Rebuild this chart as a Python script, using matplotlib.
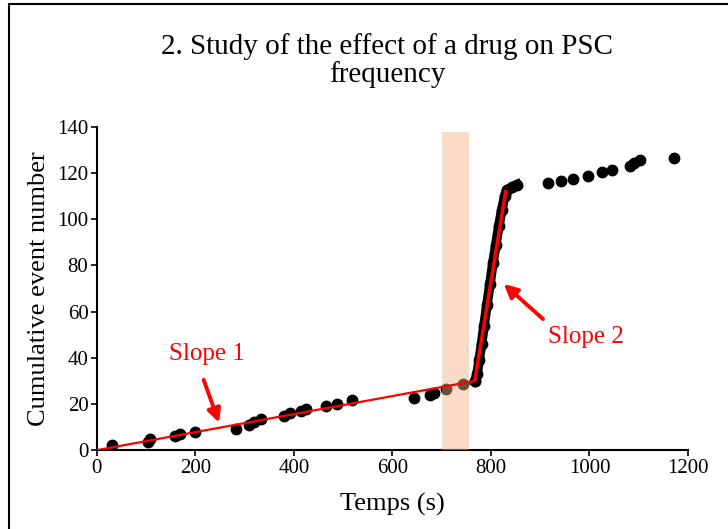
import matplotlib
matplotlib.use("Agg")
import matplotlib.pyplot as plt
from matplotlib.patches import Rectangle

plt.rcParams['font.family'] = ['Liberation Serif', 'DejaVu Serif']

# cumulative event counts vs time, control period
t_ctrl = [30, 104, 107, 158, 169, 200, 283, 309, 319, 333, 380, 392, 414, 424, 465, 487, 518,
          644, 676, 684, 709, 743, 768]
n_ctrl = [2.2, 3.5, 5, 6, 7, 8, 9, 11, 12, 13.4, 14.7, 16, 17, 18, 19, 20, 21.7,
          22.5, 23.8, 24.7, 26.4, 28.6, 30]

# burst after drug application
t_burst = [768, 772, 776, 781, 786, 792, 798, 804, 810, 816, 822, 828, 832, 843, 853]
n_burst = [30, 33, 39, 46, 54, 63, 72, 81, 89, 97, 104, 110, 112.7, 114, 115]

# late period
t_late = [916, 942, 967, 997, 1025, 1046, 1082, 1090, 1102, 1172]
n_late = [115.7, 116.6, 117.5, 118.7, 120.5, 121.4, 123, 124.4, 125.7, 126.6]

# fitted slopes
slope1_x = [0, 768]
slope1_y = [0, 30]
slope2_x = [768, 830]
slope2_y = [31, 112]

drug_start, drug_end = 700, 755

fig = plt.figure(figsize=(7.28, 5.29), dpi=100)
ax = fig.add_axes([0.133, 0.149, 0.812, 0.611])

ax.plot(t_ctrl, n_ctrl, 'o', color='black', ms=7.5, zorder=2)
ax.plot(t_burst, n_burst, '-o', color='black', ms=7.5, lw=7, zorder=2)
ax.plot(t_late, n_late, 'o', color='black', ms=7.5, zorder=2)

ax.fill_between([drug_start, drug_end], 0, 138, color='#F4B183', alpha=0.45, lw=0, zorder=3)

ax.plot(slope1_x, slope1_y, color='red', lw=1.6, zorder=4)
ax.plot(slope2_x, slope2_y, color='red', lw=2.5, zorder=4)

ax.annotate('', xy=(250, 10.8), xytext=(215, 31.6),
            arrowprops=dict(arrowstyle='-|>', color='red', lw=2.8, mutation_scale=20), zorder=5)
ax.text(223, 41.6, 'Slope 1', color='red', fontsize=18, ha='center', va='center')
ax.annotate('', xy=(822, 72.8), xytext=(910, 56),
            arrowprops=dict(arrowstyle='-|>', color='red', lw=2.8, mutation_scale=20), zorder=5)
ax.text(993, 49, 'Slope 2', color='red', fontsize=18, ha='center', va='center')

ax.set_xlim(0, 1200)
ax.set_ylim(0, 140)
ax.set_xticks(range(0, 1201, 200))
ax.set_yticks(range(0, 141, 20))
for s in ['top', 'right']:
    ax.spines[s].set_visible(False)
for s in ['left', 'bottom']:
    ax.spines[s].set_linewidth(1.5)
ax.tick_params(direction='out', length=4, width=1.2, labelsize=15, pad=2)
ax.set_xlabel('Temps (s)', fontsize=19, labelpad=11)
ax.set_ylabel('Cumulative event number', fontsize=19, labelpad=5)

fig.text(0.532, 0.913, '2. Study of the effect of a drug on PSC', fontsize=21, ha='center', va='center')
fig.text(0.532, 0.860, 'frequency', fontsize=21, ha='center', va='center')

fig.patches.append(Rectangle((0.0124, -0.2), 1.5, 1.192, transform=fig.transFigure,
                             fill=False, lw=1.5, edgecolor='black'))

fig.savefig('out.png', dpi=100)
